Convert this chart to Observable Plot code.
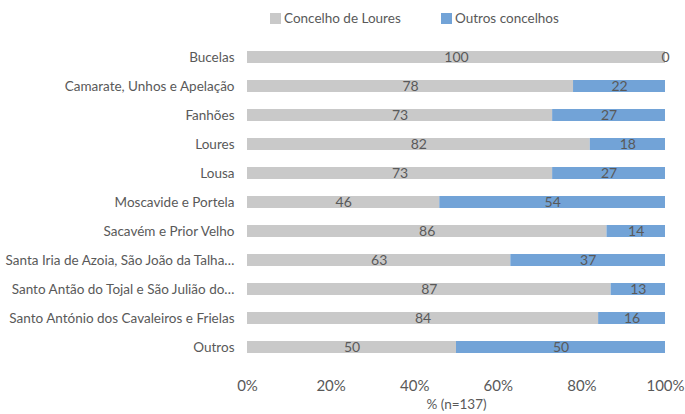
<!DOCTYPE html>
<html><head><meta charset="utf-8">
<script src="https://cdn.jsdelivr.net/npm/d3@7"></script>
<script src="https://cdn.jsdelivr.net/npm/@observablehq/plot@0.6"></script>
<style>
body{margin:0;background:#fff;font-family:Lato,"Open Sans",sans-serif;color:#595959;}
#legend{height:30px;display:flex;align-items:center;padding-left:270px;padding-top:6px;box-sizing:border-box;font-size:13.5px;}
#legend span.sw{display:inline-block;width:11px;height:11px;margin-right:3px;}
#legend .item{display:flex;align-items:center;}
#legend .item:first-child{width:171px;}
#chart svg{display:block;}
</style></head>
<body>
<div id="legend"></div>
<div id="chart"></div>
<script>
const categories = ["Bucelas","Camarate, Unhos e Apelação","Fanhões","Loures","Lousa","Moscavide e Portela","Sacavém e Prior Velho","Santa Iria de Azoia, São João da Talha…","Santo Antão do Tojal e São Julião do…","Santo António dos Cavaleiros e Frielas","Outros"];
const seriesNames = ["Concelho de Loures","Outros concelhos"];
const loures = [100,78,73,82,73,46,86,63,87,84,50];
const outros = [0,22,27,18,27,54,14,37,13,16,50];
const colors = ["#C9C9C9","#72A3D7"];
const ticks = [0,20,40,60,80,100];

const data = [];
categories.forEach((c,i)=>{
  data.push({cat:c, series:seriesNames[0], value:loures[i]});
  data.push({cat:c, series:seriesNames[1], value:outros[i]});
});

const lg = document.getElementById("legend");
seriesNames.forEach((s,i)=>{
  const d=document.createElement("div");d.className="item";
  d.innerHTML=`<span class="sw" style="background:${colors[i]}"></span>${s}`;
  lg.appendChild(d);
});

const chart = Plot.plot({
  width:685, height:384,
  marginLeft:247, marginRight:20, marginTop:1.3, marginBottom:41.6,
  style:{fontFamily:"Lato, 'Open Sans', sans-serif", fontSize:"13.5px", color:"#595959", background:"#fff"},
  x:{domain:[0,100], ticks:ticks, tickFormat:d=>d+"%", tickSize:0, tickPadding:7, label:"% (n=137)", labelAnchor:"center", labelOffset:36, labelArrow:"none"},
  y:{domain:categories, paddingInner:0.59, paddingOuter:0.59, tickSize:0, tickPadding:13, label:null},
  color:{domain:seriesNames, range:colors},
  marks:[
    Plot.barX(data, Plot.stackX({x:"value", y:"cat", fill:"series", z:"series"})),
    Plot.textX(data, Plot.stackX({x:"value", y:"cat", z:"series", text:d=>String(d.value), fill:"#595959", fontSize:14}))
  ]
});
document.getElementById("chart").appendChild(chart);
chart.querySelectorAll("g[aria-label='x-axis tick label']").forEach(e=>{e.setAttribute("font-size","15");e.style.fontSize="15px";});
</script>
</body></html>
